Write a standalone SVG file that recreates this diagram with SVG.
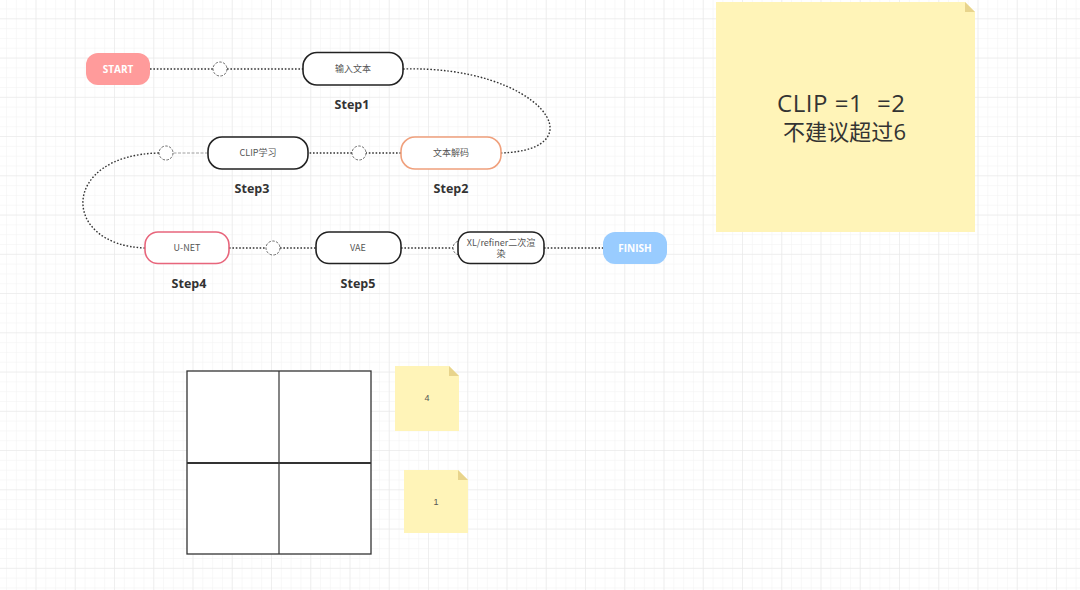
<svg xmlns="http://www.w3.org/2000/svg" width="1080" height="590" viewBox="0 0 1080 590">
<defs>
<pattern id="minor" width="9.8125" height="9.8125" patternUnits="userSpaceOnUse" patternTransform="translate(35.5,18.3)">
<path d="M0,0 H9.8125 M0,0 V9.8125" stroke="#f2f2f2" stroke-width="1" fill="none"/>
</pattern>
<pattern id="major" width="39.25" height="39.25" patternUnits="userSpaceOnUse" patternTransform="translate(35.5,18.3)">
<path d="M0,0 H39.25 M0,0 V39.25" stroke="#e6e6e6" stroke-width="1" fill="none"/>
</pattern>
<style>
.conn{fill:none;stroke:#333;stroke-width:1.4;stroke-dasharray:1.6 1.8}
.thin{fill:none;stroke:#888;stroke-width:0.8;stroke-dasharray:3 1.5}
.dot{fill:#fff;stroke:#666;stroke-width:1;stroke-dasharray:2.5 1.5}
.box{fill:#fff;stroke-width:1.6}
.lbl{font-family:"Noto Sans CJK SC","Liberation Sans",sans-serif;font-size:9px;fill:#555;text-anchor:middle}
.step{font-family:"Open Sans","Noto Sans CJK SC",sans-serif;font-size:12.5px;font-weight:bold;fill:#333;text-anchor:middle}
.term{font-family:"Open Sans","Liberation Sans",sans-serif;font-size:10px;font-weight:bold;fill:#fff;text-anchor:middle}
.note{fill:#fff4b8}
.fold{fill:#e8d48c}
.small{font-family:"Liberation Sans",sans-serif;font-size:9px;fill:#555;text-anchor:middle}
.big{font-family:"Open Sans","Noto Sans CJK SC",sans-serif;fill:#333}
</style>
</defs>
<rect width="1080" height="590" fill="#fff"/>
<rect width="1080" height="590" fill="url(#minor)"/>
<rect width="1080" height="590" fill="url(#major)"/>

<g id="connectors">
<path class="conn" d="M150,69 H213"/>
<path class="conn" d="M227,69 H303"/>
<path class="conn" d="M403,69 C540,65 600,150 501,153"/>
<path class="conn" d="M401,153 H366"/>
<path class="conn" d="M352,153 H308"/>
<path class="thin" d="M208,153 H173"/>
<path class="conn" d="M159,153 C60,155 60,245 145,248"/>
<path class="conn" d="M229,248 H266"/>
<path class="conn" d="M280,248 H316"/>
<path class="conn" d="M401,248 H458"/>
<path class="conn" d="M544,248 H603"/>
<circle class="dot" cx="220" cy="69" r="7"/>
<circle class="dot" cx="359" cy="153" r="7"/>
<circle class="dot" cx="166" cy="153" r="7"/>
<circle class="dot" cx="273" cy="248" r="7"/>
<circle class="dot" cx="460" cy="248" r="7"/>
</g>

<g id="start">
<rect x="86" y="53" width="64" height="32" rx="12" fill="#ff9b9b"/>
<text class="term" x="118" y="72.5">START</text>
</g>
<g id="step1">
<rect class="box" x="303" y="52.5" width="100" height="32.5" rx="14" stroke="#222"/>
<text class="lbl" x="353" y="72">输入文本</text>
<text class="step" x="352" y="109">Step1</text>
</g>
<g id="step2">
<rect class="box" x="401" y="137" width="100" height="32" rx="14" stroke="#f0a07c"/>
<text class="lbl" x="451" y="156">文本解码</text>
<text class="step" x="451" y="193">Step2</text>
</g>
<g id="step3">
<rect class="box" x="208" y="137" width="100" height="32" rx="14" stroke="#222"/>
<text class="lbl" x="258" y="156">CLIP学习</text>
<text class="step" x="252" y="193">Step3</text>
</g>
<g id="step4">
<rect class="box" x="145" y="232" width="84" height="31.5" rx="13" stroke="#e8667c"/>
<text class="lbl" x="187" y="251">U-NET</text>
<text class="step" x="189" y="288">Step4</text>
</g>
<g id="step5">
<rect class="box" x="316" y="232" width="85" height="31.5" rx="13" stroke="#222"/>
<text class="lbl" x="358" y="251">VAE</text>
<text class="step" x="358" y="288">Step5</text>
</g>
<g id="render">
<rect class="box" x="458" y="232" width="86" height="31.5" rx="12" stroke="#222"/>
<text class="lbl" x="501" y="246">XL/refiner二次渲</text>
<text class="lbl" x="501" y="257">染</text>
</g>
<g id="finish">
<rect x="603" y="232" width="64" height="32" rx="12" fill="#99ccff"/>
<text class="term" x="635" y="251.5">FINISH</text>
</g>

<g id="note-big">
<path class="note" d="M716,2 H965 L975,12 V232 H716 Z"/>
<path class="fold" d="M965,2 L975,12 H965 Z"/>
<text class="big" x="777" y="112" font-size="24" textLength="128" xml:space="preserve">CLIP =1  =2</text>
<text class="big" x="783" y="140" font-size="22" textLength="123">不建议超过6</text>
</g>

<g id="table" fill="none" stroke="#333">
<rect x="187" y="371" width="184" height="183" fill="#fff" stroke-width="1.3"/>
<line x1="279" y1="371" x2="279" y2="554" stroke-width="1.2"/>
<line x1="187" y1="463" x2="371" y2="463" stroke-width="1.8"/>
</g>

<g id="note-4">
<path class="note" d="M395,366 H449 L459,376 V431 H395 Z"/>
<path class="fold" d="M449,366 L459,376 H449 Z"/>
<text class="small" x="427" y="401">4</text>
</g>
<g id="note-1">
<path class="note" d="M404,470 H458 L468,480 V533 H404 Z"/>
<path class="fold" d="M458,470 L468,480 H458 Z"/>
<text class="small" x="436" y="505">1</text>
</g>
</svg>
